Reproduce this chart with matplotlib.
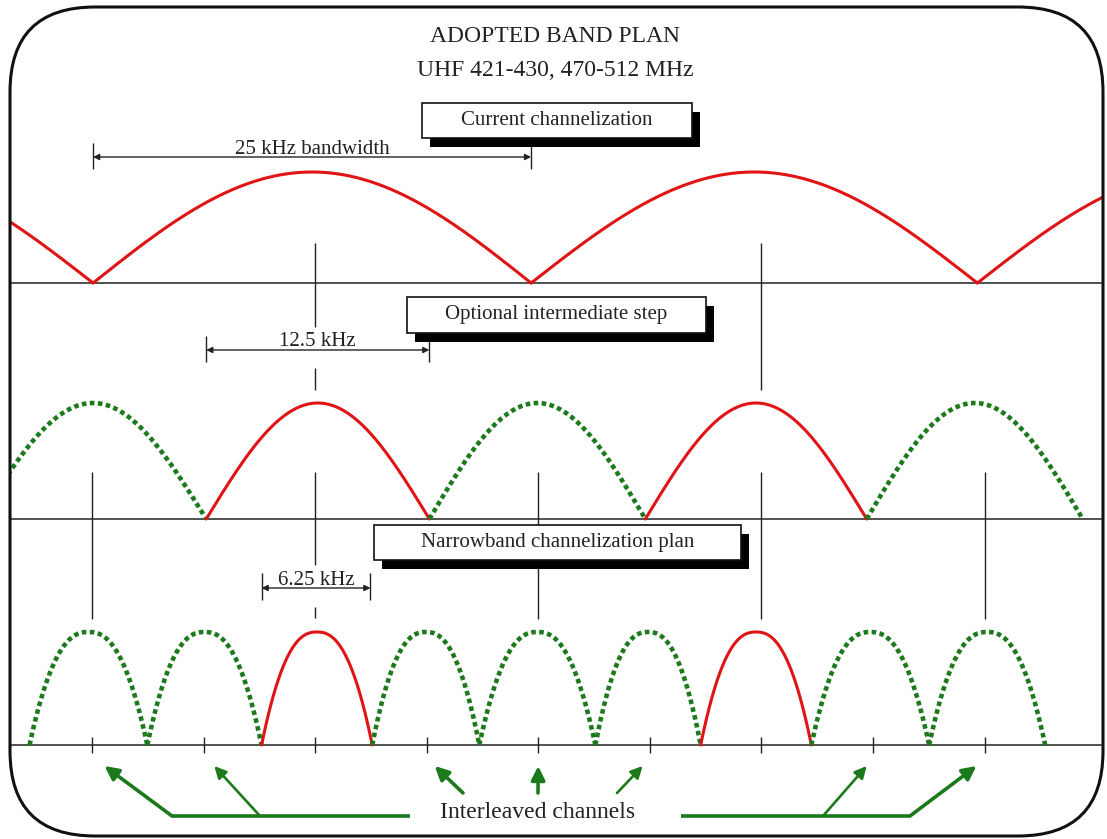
import numpy as np
import matplotlib.pyplot as plt
from matplotlib.patches import FancyBboxPatch, Rectangle

plt.rcParams['font.family'] = ['Liberation Serif', 'DejaVu Serif']

W, H = 1107, 839
X0, PX_PER_KHZ = 92, 17.85   # where 0 kHz sits, and the scale

# channel edges (nulls) in kHz
row1_edges = [-25.0, 0.06, 24.6, 49.6, 74.6]
row1_kinds = ['on', 'on', 'on', 'on']
row2_edges = [-6.3, 6.4, 18.9, 31.0, 43.4, 55.5]
row2_kinds = ['off', 'on', 'off', 'on', 'off']
row3_edges = [-3.5, 3.1, 9.5, 15.7, 21.7, 28.2, 34.1, 40.3, 46.9, 53.4]
row3_kinds = ['off', 'off', 'on', 'off', 'off', 'off', 'on', 'off', 'off']
row3_ticks = [0, 6.25, 12.5, 18.75, 25, 31.25, 37.5, 43.75, 50]
interleaved = [0, 6.25, 18.75, 25, 31.25, 43.75, 50]

RED = '#e01414'
GREEN = '#1c7a1c'
INK = '#222222'

fig = plt.figure(figsize=(W / 100, H / 100), dpi=100)
ax = fig.add_axes([0, 0, 1, 1])
ax.set_xlim(-X0 / PX_PER_KHZ, (W - X0) / PX_PER_KHZ)
ax.set_ylim(H, 0)
ax.axis('off')

# overlay in pixel units for the layout pieces
lay = fig.add_axes([0, 0, 1, 1], zorder=2)
lay.set_xlim(0, W)
lay.set_ylim(H, 0)
lay.axis('off')
lay.patch.set_alpha(0)

frame = FancyBboxPatch((10, 7), 1093, 829, boxstyle='round,pad=0,rounding_size=85',
                       fc='none', ec='#111111', lw=2.2, transform=lay.transData)
lay.add_patch(frame)


def draw_row(edges, kinds, base, height, shape):
    for lo, hi, kind in zip(edges[:-1], edges[1:], kinds):
        f = np.linspace(lo, hi, 300)
        t = (f - lo) / (hi - lo)
        if shape == 'sin':
            amp = np.sin(np.pi * t)
        else:
            amp = 1 - np.abs(2 * t - 1) ** 2.4
        y = base - height * amp
        if kind == 'on':
            ln, = ax.plot(f, y, color=RED, lw=2.2, solid_capstyle='round', zorder=3)
        else:
            ln, = ax.plot(f, y, color=GREEN, lw=3.3, linestyle=(0, (1.0, 0.75)),
                          dash_capstyle='butt', zorder=3)
        ln.set_clip_path(frame)


draw_row(row1_edges, row1_kinds, 283, 111, 'sin')
draw_row(row2_edges, row2_kinds, 519, 116, 'sin')
draw_row(row3_edges, row3_kinds, 745, 113, 'steep')

# baselines
for yb in [283, 519, 745]:
    ax.axhline(yb, xmin=11 / W, xmax=1101 / W, color=INK, lw=1.1, zorder=2)

# vertical reference lines
ax.vlines([12.5, 37.5], 243, [327, 390], color=INK, lw=1.0)
ax.vlines(12.5, 368, 390, color=INK, lw=1.0)
ax.vlines([0, 25, 37.5, 50], 472, 619, color=INK, lw=1.0)
ax.vlines(12.5, 472, 565, color=INK, lw=1.0)
ax.vlines(12.5, 607, 618, color=INK, lw=1.0)
ax.vlines(row3_ticks, 737, 753, color=INK, lw=1.0)


def span(f1, f2, y, y0, y1, label, ty):
    ax.vlines([f1, f2], y0, y1, color=INK, lw=1.0)
    ax.annotate('', xy=(f1, y), xytext=(f2, y),
                arrowprops=dict(arrowstyle='<|-|>', color=INK, lw=1.0,
                                mutation_scale=9, shrinkA=0, shrinkB=0))
    ax.text((f1 + f2) / 2, ty, label, ha='center', va='baseline',
            fontsize=15, color=INK)


span(row1_edges[1], row1_edges[2], 157, 143, 169, '25 kHz bandwidth', 154)
span(row2_edges[1], row2_edges[2], 350, 336, 362, '12.5 kHz', 346)
span(9.5, 15.6, 588, 573, 600, '6.25 kHz', 585)

# labelled boxes with drop shadow
boxes = [(422, 103, 270, 35, 'Current channelization'),
         (407, 297, 299, 36, 'Optional intermediate step'),
         (374, 525, 367, 35, 'Narrowband channelization plan')]
for bx, by, bw, bh, txt in boxes:
    lay.add_patch(Rectangle((bx + 8, by + 9), bw, bh, fc='black', ec='none'))
    lay.add_patch(Rectangle((bx, by), bw, bh, fc='white', ec='#111111', lw=1.2))
    lay.text(bx + bw / 2, by + bh / 2, txt, ha='center', va='center',
             fontsize=15, color=INK)

lay.text(555, 37, 'ADOPTED BAND PLAN', ha='center', va='center', fontsize=17, color=INK)
lay.text(555, 70, 'UHF 421-430, 470-512 MHz', ha='center', va='center', fontsize=17, color=INK)

# interleaved channel pointers
tails = [(172, 816), (260, 816), (463, 793), (538, 793), (617, 793), (823, 816), (910, 816)]
tip_shift = [0.7, 0.6, 0.45, 0.0, -0.4, -0.35, -0.45]
widths = [2.6, 1.9, 2.6, 2.6, 1.9, 1.9, 2.6]
for f, (tx, ty), sh, w in zip(interleaved, tails, tip_shift, widths):
    ax.annotate('', xy=(f + sh, 766), xytext=(tx, ty), textcoords=lay.transData,
                arrowprops=dict(arrowstyle='-|>', color=GREEN, lw=w,
                                mutation_scale=10 + 4 * w, shrinkA=0, shrinkB=0))
lay.plot([172, 410], [816, 816], color=GREEN, lw=2.6, solid_capstyle='butt')
lay.plot([681, 910], [816, 816], color=GREEN, lw=2.6, solid_capstyle='butt')
lay.text(538, 812, 'Interleaved channels', ha='center', va='center', fontsize=17, color=INK)

fig.savefig('out.png', dpi=100, facecolor='white')
